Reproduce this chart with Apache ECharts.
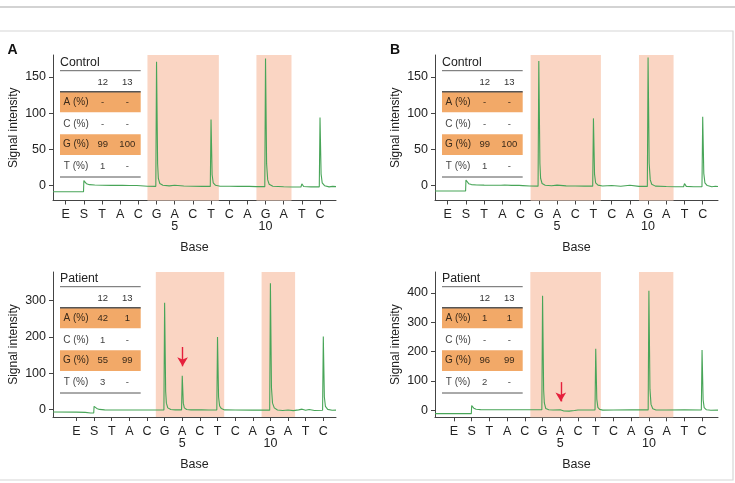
<!DOCTYPE html>
<html>
<head>
<meta charset="utf-8">
<script src="https://cdn.jsdelivr.net/npm/echarts@6.0.0/dist/echarts.min.js"></script>
<style>
html, body { margin: 0; padding: 0; background: #fff; }
#chart { width: 735px; height: 483px; }
</style>
</head>
<body>
<div id="chart"></div>
<script>
// dispensation order on the x axis, with the base numbers shown under two of them
const bases = ['E', 'S', 'T', 'A', 'C', 'G', 'A', 'C', 'T', 'C', 'A', 'G', 'A', 'T', 'C'];
const baseNumbers = { 6: '5', 11: '10' };

// inset tables
const rowNames = ['A (%)', 'C (%)', 'G (%)', 'T (%)'];
const colNames = ['12', '13'];
const tableControl = [['-', '-'], ['-', '-'], ['99', '100'], ['1', '-']];
const tablePatientA = [['42', '1'], ['1', '-'], ['55', '99'], ['3', '-']];
const tablePatientB = [['1', '1'], ['-', '-'], ['96', '99'], ['2', '-']];

// y tick labels
const yTicksControl = [0, 50, 100, 150];
const yTicksPatientA = [0, 100, 200, 300];
const yTicksPatientB = [0, 100, 200, 300, 400];

// shaded ranges (in base positions)
const shadeControlA = [[4.5, 8.43], [10.5, 12.43]];
const shadeControlB = [[4.55, 8.41], [10.5, 12.4]];
const shadePatientA = [[4.5, 8.38], [10.5, 12.4]];
const shadePatientB = [[4.31, 8.29], [10.44, 12.38]];

// red arrows: [x, from y, to y]
const arrowPatientA = [6.02, 172, 119];
const arrowPatientB = [6.03, 96, 30];

// pyrogram traces: [position, signal]
const traceControlA = [
  [-0.7, -8.3], [0.98, -8.3], [1.0, 7.0], [1.05, 5.0], [1.15, 2.6], [1.3, 1.4], [1.6, 0.9], [2.0, 0.6],
  [2.5, 0.5], [2.92, 0.5], [3.0, 2.2], [3.12, 0.7], [3.5, 0.3], [3.92, 0.2], [4.0, 1.8], [4.12, 0.0],
  [4.5, -0.8], [4.96, -0.9], [5.0, 170.6], [5.06, 30], [5.1, 10], [5.18, 3], [5.35, 0.5], [5.7, -0.3],
  [6.0, 0.6], [6.1, -0.3], [6.5, -0.5], [7.0, -0.8], [7.5, -1.0], [7.96, -1.0], [8.0, 91.3], [8.06, 15],
  [8.12, 4], [8.25, 0.5], [8.5, -0.8], [9.0, -0.8], [9.5, -1.0], [9.95, -1.0], [10.0, 0.4], [10.1, -1.0],
  [10.5, -1.3], [10.96, -1.3], [11.0, 175.3], [11.06, 30], [11.12, 8], [11.2, 2], [11.4, -0.8], [12.0, -1.5],
  [12.5, -1.8], [12.95, -1.8], [13.0, 2.5], [13.1, -1.2], [13.5, -1.6], [13.96, -1.6], [14.0, 94.0], [14.06, 16],
  [14.12, 4], [14.25, 0], [14.5, -1.6], [14.7, -1.0], [14.88, -1.3]
];
const traceControlB = [
  [-0.7, -7.3], [0.98, -7.3], [1.0, 7.8], [1.05, 5.5], [1.15, 2.8], [1.3, 1.5], [1.6, 1.0], [2.0, 0.8],
  [2.5, 0.7], [2.92, 0.7], [3.0, 2.5], [3.12, 0.9], [3.5, 0.5], [3.92, 0.4], [4.0, 1.6], [4.12, 0.1],
  [4.5, -0.5], [4.96, -0.6], [5.0, 171.6], [5.06, 31], [5.1, 10], [5.18, 3], [5.35, 0.6], [5.7, 0],
  [6.0, 0.8], [6.1, -0.2], [6.5, -0.3], [7.0, -0.5], [7.5, -0.6], [7.96, -0.6], [8.0, 92.7], [8.06, 16],
  [8.12, 4], [8.25, 0.8], [8.5, -0.5], [9.0, 0.3], [9.1, -0.5], [9.5, -0.7], [10.0, 0.5], [10.1, -0.8],
  [10.5, -1.0], [10.96, -1.0], [11.0, 176.7], [11.06, 31], [11.12, 8], [11.2, 2], [11.4, -0.6], [12.0, -1.2],
  [12.5, -1.5], [12.95, -1.5], [13.0, 2.8], [13.1, -1.0], [13.5, -1.4], [13.96, -1.4], [14.0, 95.0], [14.06, 17],
  [14.12, 4], [14.25, 0.2], [14.5, -1.5], [14.7, -0.8], [14.84, -1.2]
];
const tracePatientA = [
  [-1.33, -6.3], [0.0, -6.5], [0.5, -7.2], [0.8, -9.0], [0.98, -9.0], [1.0, 9.3], [1.05, 7.0], [1.15, 3.5],
  [1.3, 0.8], [1.6, -0.5], [2.0, -1.0], [3.0, -1.0], [4.0, -1.0], [4.96, -1.0], [5.0, 293.4], [5.06, 50],
  [5.1, 18], [5.18, 5], [5.35, 0.5], [5.6, -0.5], [5.96, -0.5], [6.0, 93.2], [6.06, 18], [6.12, 5],
  [6.25, 0.5], [6.5, -0.5], [6.95, -0.5], [7.0, 3.0], [7.1, -0.5], [7.5, -0.8], [7.96, -0.8], [8.0, 199.3],
  [8.06, 35], [8.12, 10], [8.22, 3], [8.4, -0.5], [9.0, -1.0], [10.0, -1.2], [10.96, -1.2], [11.0, 346.6],
  [11.06, 60], [11.12, 18], [11.22, 5], [11.4, -1.0], [11.7, -2.0], [12.0, -1.0], [12.3, -2.5], [12.6, -0.5],
  [12.8, 1.5], [13.0, -1.5], [13.2, 0.5], [13.5, -2.0], [13.96, -1.5], [14.0, 201.0], [14.06, 35], [14.12, 9],
  [14.25, 1], [14.5, -1.5], [14.72, -1.2]
];
const tracePatientB = [
  [-1.07, -11.5], [0.98, -11.5], [1.0, 15.9], [1.05, 12], [1.12, 7], [1.25, 3.5], [1.5, 2.3], [2.0, 2.0],
  [3.0, 2.0], [4.0, 2.0], [4.96, 1.8], [5.0, 390.8], [5.06, 70], [5.1, 25], [5.18, 6], [5.35, 1.5],
  [5.6, 1.0], [6.0, 1.5], [6.2, -2.5], [6.5, -3.0], [6.8, -1.0], [7.0, 1.0], [7.5, 1.0], [7.96, 1.0],
  [8.0, 210.0], [8.06, 38], [8.12, 10], [8.22, 3], [8.4, 0.5], [9.0, 1.0], [10.0, 1.5], [10.96, 1.2],
  [11.0, 407.8], [11.06, 72], [11.12, 20], [11.22, 5], [11.4, 1.0], [12.0, 1.0], [13.0, 1.5], [13.96, 1.0],
  [14.0, 205.6], [14.06, 36], [14.12, 9], [14.25, 1.5], [14.5, 0.0], [14.9, 0.5]
];

const FONT = '"Liberation Sans", Arial, Helvetica, sans-serif';
const AXIS_COLOR = '#444';
const TEXT_COLOR = '#222';
const TRACE_COLOR = '#48a558';
const SHADE_COLOR = '#fad5c3';
const ROW_COLOR = '#f2a968';
const ARROW_COLOR = '#e5203c';

const panels = [
  { title: 'Control', trace: traceControlA, shades: shadeControlA, yTicks: yTicksControl, table: tableControl,
    left: 53, top: 55, height: 145.5, xMin: -0.7, xMax: 14.88, yMin: -20.4, yMax: 180 },
  { title: 'Control', trace: traceControlB, shades: shadeControlB, yTicks: yTicksControl, table: tableControl,
    left: 435, top: 55, height: 145.5, xMin: -0.7, xMax: 14.84, yMin: -20.4, yMax: 180 },
  { title: 'Patient', trace: tracePatientA, shades: shadePatientA, yTicks: yTicksPatientA, table: tablePatientA,
    arrow: arrowPatientA, left: 53, top: 272, height: 145, xMin: -1.33, xMax: 14.72, yMin: -20, yMax: 377.6 },
  { title: 'Patient', trace: tracePatientB, shades: shadePatientB, yTicks: yTicksPatientB, table: tablePatientB,
    arrow: arrowPatientB, left: 435, top: 272, height: 145.3, xMin: -1.07, xMax: 14.9, yMin: -24, yMax: 471.5 }
];

const baseIndex = bases.map((b, i) => i);

function tableGraphics(x0, y0, title, cells) {
  const w = 80.7;
  const els = [];
  const line = (y, lw, color) => ({
    type: 'line', shape: { x1: x0, y1: y, x2: x0 + w, y2: y },
    style: { stroke: color, lineWidth: lw }, silent: true, z: 10
  });
  const text = (x, y, s, size, color, align) => ({
    type: 'text', x: x, y: y, silent: true, z: 11,
    style: { text: s, font: size + 'px ' + FONT, fill: color, align: align || 'center', verticalAlign: 'middle' }
  });
  // orange rows A and G
  els.push({ type: 'rect', shape: { x: x0, y: y0 + 36.7, width: w, height: 20.6 }, style: { fill: ROW_COLOR }, silent: true, z: 9 });
  els.push({ type: 'rect', shape: { x: x0, y: y0 + 79.3, width: w, height: 20.7 }, style: { fill: ROW_COLOR }, silent: true, z: 9 });
  els.push(text(x0, y0 + 7.6, title, 12.3, TEXT_COLOR, 'left'));
  els.push(line(y0 + 15.7, 1, '#666'));
  els.push(text(x0 + 42.7, y0 + 27, colNames[0], 9.5, '#333'));
  els.push(text(x0 + 67.3, y0 + 27, colNames[1], 9.5, '#333'));
  els.push(line(y0 + 36.7, 1.5, '#555'));
  const rowY = [47, 69, 89.7, 111.7];
  rowNames.forEach((name, r) => {
    const c = (r === 0 || r === 2) ? '#3a2a1a' : '#444';
    els.push(text(x0 + 16, y0 + rowY[r], name, 10, c));
    els.push(text(x0 + 42.7, y0 + rowY[r], cells[r][0], 9.5, c));
    els.push(text(x0 + 67.3, y0 + rowY[r], cells[r][1], 9.5, c));
  });
  els.push(line(y0 + 122, 1, '#555'));
  return els;
}

const chart = echarts.init(document.getElementById('chart'));

const grids = [], xAxes = [], yAxes = [], series = [];
let graphics = [
  { type: 'line', shape: { x1: 0, y1: 7, x2: 735, y2: 7 }, style: { stroke: '#c4c4c4', lineWidth: 1.5 }, silent: true },
  { type: 'rect', shape: { x: -2, y: 31, width: 735, height: 449 }, style: { fill: 'none', stroke: '#d6d6d6', lineWidth: 1.2 }, silent: true },
  { type: 'text', x: 12.5, y: 50.5, style: { text: 'A', font: 'bold 14px ' + FONT, fill: '#111', align: 'center', verticalAlign: 'middle' }, silent: true },
  { type: 'text', x: 395, y: 50.5, style: { text: 'B', font: 'bold 14px ' + FONT, fill: '#111', align: 'center', verticalAlign: 'middle' }, silent: true }
];

panels.forEach((p, i) => {
  grids.push({ left: p.left, top: p.top, width: 283, height: p.height, containLabel: false, outerBoundsMode: 'none' });
  xAxes.push({
    type: 'value', gridIndex: i, min: p.xMin, max: p.xMax,
    name: 'Base', nameLocation: 'middle', nameGap: 41,
    nameTextStyle: { fontFamily: FONT, fontSize: 12.5, color: TEXT_COLOR },
    axisLine: { show: true, onZero: false, lineStyle: { color: AXIS_COLOR, width: 1 } },
    axisTick: { show: true, length: 4, customValues: baseIndex, lineStyle: { color: AXIS_COLOR } },
    axisLabel: {
      customValues: baseIndex, fontFamily: FONT, fontSize: 12.5, color: TEXT_COLOR, margin: 8.5, lineHeight: 12,
      formatter: v => {
        const k = Math.round(v);
        return bases[k] + (baseNumbers[k] ? '\n' + baseNumbers[k] : '');
      }
    },
    splitLine: { show: false }
  });
  yAxes.push({
    type: 'value', gridIndex: i, min: p.yMin, max: p.yMax,
    name: 'Signal intensity', nameLocation: 'middle', nameGap: 33, nameRotate: 90,
    nameTextStyle: { fontFamily: FONT, fontSize: 12, color: TEXT_COLOR },
    axisLine: { show: true, onZero: false, lineStyle: { color: AXIS_COLOR, width: 1 } },
    axisTick: { show: true, length: 4, customValues: p.yTicks, lineStyle: { color: AXIS_COLOR } },
    axisLabel: { customValues: p.yTicks, fontFamily: FONT, fontSize: 12.5, color: TEXT_COLOR, margin: 7 },
    splitLine: { show: false }
  });
  const s = {
    type: 'line', xAxisIndex: i, yAxisIndex: i, data: p.trace,
    showSymbol: false, symbol: 'none', animation: false, z: 3,
    lineStyle: { color: TRACE_COLOR, width: 1.1 },
    markArea: {
      silent: true, z: 1,
      itemStyle: { color: SHADE_COLOR },
      data: p.shades.map(r => [{ xAxis: r[0] }, { xAxis: r[1] }])
    }
  };
  if (p.arrow) {
    s.markLine = {
      silent: true, animation: false, symbol: ['none', 'arrow'], symbolSize: [8, 9],
      label: { show: false },
      lineStyle: { color: ARROW_COLOR, width: 1.4, type: 'solid' },
      data: [[{ coord: [p.arrow[0], p.arrow[1]] }, { coord: [p.arrow[0], p.arrow[2]] }]]
    };
  }
  series.push(s);
  graphics = graphics.concat(tableGraphics(p.left + 7, p.top - (i < 2 ? 0 : 1), p.title, p.table));
});

chart.setOption({
  animation: false,
  textStyle: { fontFamily: FONT },
  grid: grids,
  xAxis: xAxes,
  yAxis: yAxes,
  series: series,
  graphic: graphics
});
</script>
</body>
</html>
